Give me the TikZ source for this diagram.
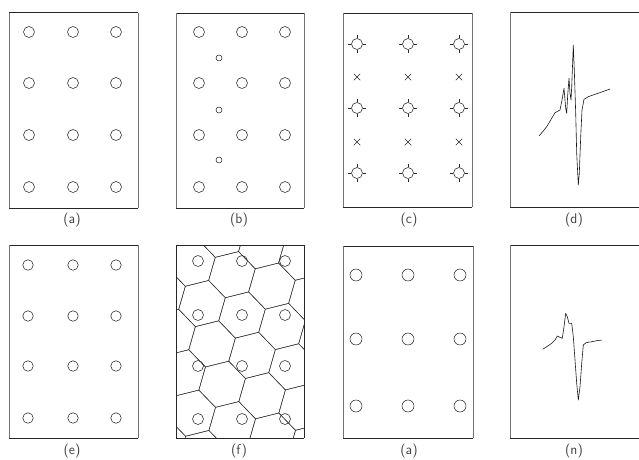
\documentclass[tikz,border=0pt]{standalone}
\usetikzlibrary{shapes.misc}
\begin{document}
\begin{tikzpicture}[x=1pt,y=-1pt,
  frame/.style={line width=0.7pt, black!85},
  side/.style={line width=0.5pt, black!55},
  ring/.style={circle, draw=black!85, line width=0.55pt, inner sep=0pt, minimum size=11pt},
  smallring/.style={ring, minimum size=6pt},
  bigring/.style={ring, minimum size=12pt},
  ticked/.style={ring, minimum size=11pt},
  tickline/.style={line width=0.6pt, black!85},
  xmark/.style={cross out, draw=black!85, line width=0.5pt, inner sep=0pt, minimum size=6pt},
  panellabel/.style={font=\sffamily\fontsize{14}{16}\selectfont, inner sep=0pt, text=black!75},
  hexline/.style={line width=0.45pt, black!80},
  trace/.style={line width=0.6pt, line join=round, black!90}
]
\useasboundingbox (0,0) rectangle (639,459);

% ---------- (a)
\draw[frame] (9,12.7) -- (138,12.7);
\draw[frame] (9,208) -- (138,208);
\draw[side] (9,12.7) -- (9,208);
\draw[side] (138,12.7) -- (138,208);
\foreach \x [count=\i] in {29,73,116}
  \foreach \y [count=\j] in {32,83,135,187}
    \node[ring] (a\i\j) at (\x,\y) {};
\node[panellabel] (la) at (72,220) {(a)};

% ---------- (b)
\draw[frame] (176,13) -- (304,13);
\draw[frame] (176,208) -- (304,208);
\draw[side] (176,13) -- (176,208);
\draw[side] (304,13) -- (304,208);
\foreach \x [count=\i] in {199,242,285}
  \foreach \y [count=\j] in {32,83,135,187}
    \node[ring] (b\i\j) at (\x,\y) {};
\foreach \y [count=\j] in {58,110,160}
  \node[smallring] (bs\j) at (219,\y) {};
\node[panellabel] (lb) at (239,220) {(b)};

% ---------- (c)
\draw[frame] (343,13) -- (472,13);
\draw[frame] (343,207) -- (472,207);
\draw[side] (343,13) -- (343,207);
\draw[side] (472,13) -- (472,207);
\foreach \x [count=\i] in {357,408,459}
  \foreach \y [count=\j] in {44,108,173} {
    \node[ticked] (c\i\j) at (\x,\y) {};
    \draw[tickline] (c\i\j.north) -- ++(0,-3);
    \draw[tickline] (c\i\j.south) -- ++(0,3);
    \draw[tickline] (c\i\j.west) -- ++(-3,0);
    \draw[tickline] (c\i\j.east) -- ++(3,0);
  }
\foreach \x [count=\i] in {357,408,459}
  \foreach \y [count=\j] in {77,142}
    \node[xmark] (cx\i\j) at (\x,\y) {};
\node[panellabel] (lc) at (409,220) {(c)};

% ---------- (d)
\draw[frame] (639,12) -- (510,12);
\draw[side] (510,12) -- (510,207);
\draw[frame] (510,207) -- (639,207);
\draw[trace] plot coordinates {
 (539,136) (542.7,131.7) (546.7,126.7) (551.7,118.3) (555,112.7) (560,110)
 (561.7,101.7) (564,88.3) (565.7,108.3) (566.7,113.3) (567.7,95) (569,78.3)
 (570,93.3) (571,100) (571.7,86.7) (573.3,45) (574.3,70) (575.7,113.3)
 (576.7,153.3) (578.3,185) (579.3,173.3) (580.7,136.7) (582,110) (584,99.3)
 (588.3,96.7) (595,94.3) (601.7,92) (610,89)};
\node[panellabel] (ld) at (574,220) {(d)};

% ---------- (e)
\draw[frame] (9,245) -- (138,245);
\draw[frame] (9,438) -- (138,438);
\draw[side] (9,245) -- (9,438);
\draw[side] (138,245) -- (138,438);
\foreach \x [count=\i] in {28,73,116}
  \foreach \y [count=\j] in {265,316,366,418}
    \node[ring, minimum size=10.5pt] (e\i\j) at (\x,\y) {};
\node[panellabel] (le) at (72,451) {(e)};

% ---------- (f)
\begin{scope}
  \clip (176,245) rectangle (304,438);
  \foreach \i in {-4,...,4}
    \foreach \j in {-4,...,4}
      \draw[hexline, shift={(242,315)}, shift={(16:{\i*41.6})}, shift={(76:{\j*41.6})}]
        (-14:24) -- (46:24) -- (106:24) -- (166:24) -- (226:24) -- (286:24) -- cycle;
\end{scope}
\draw[frame] (176,245) -- (304,245);
\draw[frame] (176,438) -- (304,438);
\draw[frame] (176,245) -- (176,438);
\draw[frame] (304,245) -- (304,438);
\foreach \x [count=\i] in {198,242,285}
  \foreach \y [count=\j] in {261,315,366,419}
    \node[ring] (f\i\j) at (\x,\y) {};
\node[panellabel] (lf) at (239,451) {(f)};

% ---------- (g)
\draw[frame] (343,246) -- (473,246);
\draw[frame] (343,438) -- (473,438);
\draw[side] (343,246) -- (343,438);
\draw[side] (473,246) -- (473,438);
\foreach \x [count=\i] in {356,408,460}
  \foreach \y [count=\j] in {275,339,406}
    \node[bigring] (g\i\j) at (\x,\y) {};
\node[panellabel] (lg) at (409,451) {(a)};

% ---------- (h)
\draw[frame] (639,245) -- (510,245);
\draw[side] (510,245) -- (510,438);
\draw[frame] (510,438) -- (639,438);
\draw[trace] plot coordinates {
 (542.7,349.3) (546.7,346.7) (551.7,343.3) (555,340) (557.3,336) (560,337.3)
 (562.3,338.3) (564,326.7) (565.7,313.3) (567.3,316.7) (569,323.3) (571.7,323.3)
 (573.3,336.7) (575,360) (576.7,383.3) (578.3,400) (580,386.7) (581.7,363.3)
 (583.3,345) (586,342.7) (591.7,341.7) (596.7,340.7) (601.7,340)};
\node[panellabel] (lh) at (574,451) {(n)};
\end{tikzpicture}
\end{document}
